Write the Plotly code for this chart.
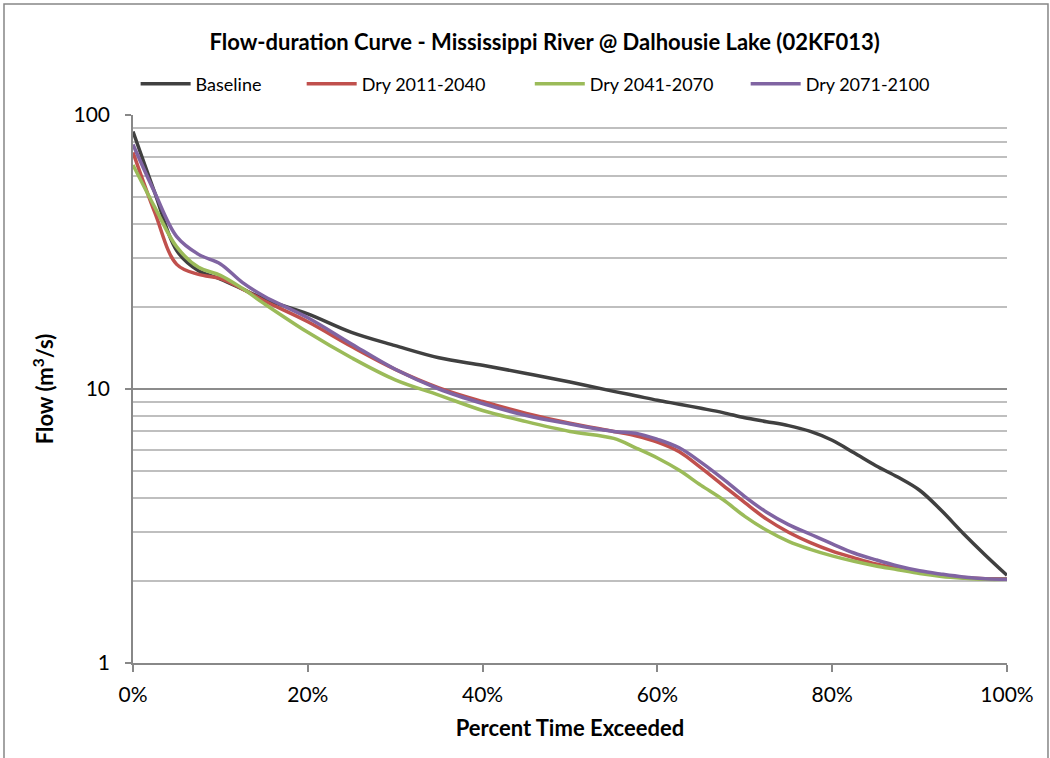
import plotly.graph_objects as go

pct = [0, 0.025, 0.05, 0.075, 0.10, 0.125, 0.15, 0.20, 0.25, 0.30, 0.35, 0.40,
       0.45, 0.50, 0.55, 0.575, 0.60, 0.625, 0.65, 0.675, 0.70, 0.725, 0.75,
       0.775, 0.80, 0.825, 0.85, 0.875, 0.90, 0.925, 0.95, 0.975, 1.00]

baseline = [87, 52, 32, 27, 25.2, 23.2, 21.3, 18.8, 16.1, 14.4, 13.0, 12.2,
            11.4, 10.6, 9.8, 9.45, 9.1, 8.8, 8.5, 8.2, 7.85, 7.6, 7.35,
            7.0, 6.5, 5.85, 5.25, 4.77, 4.27, 3.6, 2.97, 2.48, 2.09]
dry_2011 = [73, 44, 28.5, 26.2, 25.3, 23.2, 21.0, 17.6, 14.3, 11.8, 10.1, 9.0,
            8.15, 7.5, 7.0, 6.75, 6.4, 5.9, 5.15, 4.45, 3.85, 3.35, 3.0,
            2.75, 2.56, 2.42, 2.3, 2.22, 2.14, 2.09, 2.05, 2.03, 2.03]
dry_2041 = [65.7, 46, 33, 27.8, 26.0, 23.3, 20.5, 16.1, 13.0, 10.8, 9.5, 8.35,
            7.6, 7.0, 6.6, 6.1, 5.6, 5.05, 4.45, 3.95, 3.43, 3.05, 2.78,
            2.6, 2.46, 2.35, 2.26, 2.19, 2.12, 2.07, 2.04, 2.02, 2.02]
dry_2071 = [78, 52, 36, 31, 28.6, 24.5, 21.8, 18.2, 14.6, 11.8, 10.0, 8.85,
            8.0, 7.45, 7.0, 6.9, 6.55, 6.1, 5.4, 4.7, 4.05, 3.55, 3.2,
            2.95, 2.72, 2.52, 2.38, 2.26, 2.17, 2.11, 2.06, 2.03, 2.02]

series = [
    ("Baseline", baseline, "#404040"),
    ("Dry 2011-2040", dry_2011, "#C0504D"),
    ("Dry 2041-2070", dry_2041, "#9BBB59"),
    ("Dry 2071-2100", dry_2071, "#8064A2"),
]

y_major = [1, 10, 100]
y_minor = [2, 3, 4, 5, 6, 7, 8, 9, 20, 30, 40, 50, 60, 70, 80, 90]
x_ticks = [0, 0.2, 0.4, 0.6, 0.8, 1.0]

FONT = "Lato, Carlito, Calibri, sans-serif"

legend_names = ["legend", "legend2", "legend3", "legend4"]
legend_x = [0.003, 0.193, 0.454, 0.701]

fig = go.Figure()
for (name, vals, color), lg in zip(series, legend_names):
    fig.add_trace(go.Scatter(
        x=pct, y=vals, name=name, mode="lines", legend=lg,
        line=dict(color=color, width=3.5, shape="spline", smoothing=1.0),
    ))

layout_legends = {}
for lg, lx in zip(legend_names, legend_x):
    layout_legends[lg] = dict(
        orientation="h", x=lx, xanchor="left", xref="paper",
        y=1.0566, yanchor="middle", yref="paper",
        font=dict(family=FONT, size=18), itemwidth=50,
        bgcolor="rgba(0,0,0,0)",
    )

fig.update_layout(
    width=1050, height=758,
    margin=dict(l=133, r=43, t=115, b=95),
    paper_bgcolor="white", plot_bgcolor="white",
    font=dict(family=FONT, size=21, color="#000000"),
    title=dict(
        text="<b>Flow-duration Curve - Mississippi River @ Dalhousie Lake (02KF013)</b>",
        x=0.471, xref="paper", xanchor="center", y=0.9446, yanchor="middle",
        font=dict(family=FONT, size=22),
    ),
    showlegend=True,
    **layout_legends,
)

fig.update_xaxes(
    range=[0, 1], tickvals=x_ticks, tickformat=".0%",
    showgrid=False, zeroline=False,
    showline=True, linecolor="#888888", linewidth=1.5,
    ticks="outside", ticklen=7, tickcolor="#888888", tickwidth=1.5,
    tickfont=dict(family=FONT, size=21),
    ticklabelstandoff=5,
    title=dict(text="<b>Percent Time Exceeded</b>", font=dict(family=FONT, size=22), standoff=16),
)

fig.update_yaxes(
    type="log", range=[0, 2], tickvals=y_major, ticktext=[str(v) for v in y_major],
    showgrid=True, gridcolor="#8c8c8c", gridwidth=1.5,
    zeroline=False,
    showline=True, linecolor="#888888", linewidth=1.5,
    ticks="outside", ticklen=6, tickcolor="#888888", tickwidth=1.5,
    tickfont=dict(family=FONT, size=21),
    ticklabelstandoff=11,
    minor=dict(tickvals=y_minor, showgrid=True, gridcolor="#bfbfbf", gridwidth=1.5, ticks=""),
    title=dict(text="<b>Flow (m<sup>3</sup>/s)</b>", font=dict(family=FONT, size=22), standoff=14),
)

# chart-area border
fig.add_shape(type="rect", xref="paper", yref="paper",
              x0=-0.1476, x1=1.0469, y0=-0.2, y1=1.2026,
              line=dict(color="#868686", width=1.5), fillcolor="rgba(0,0,0,0)",
              layer="below")

fig.write_html("out.html")
